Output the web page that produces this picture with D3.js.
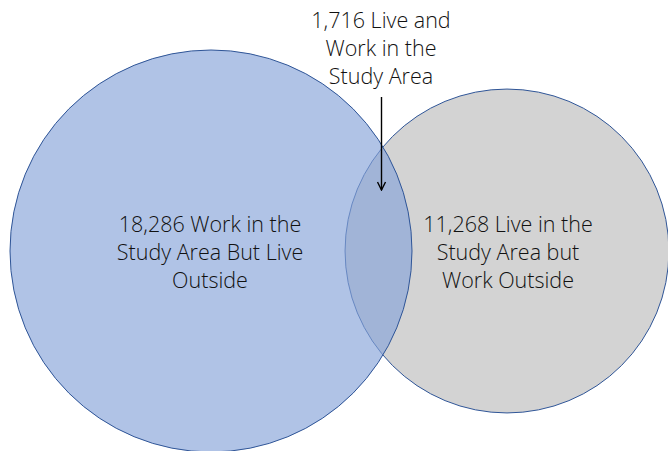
<!DOCTYPE html>
<html>
<head>
<meta charset="utf-8">
<script src="https://cdn.jsdelivr.net/npm/d3@7"></script>
<style>
  html, body { margin: 0; padding: 0; background: #fff; }
  svg { display: block; }
</style>
</head>
<body>
<svg id="chart"></svg>
<script>
// counts from the diagram
const setNames = ['work', 'live'];
const onlyCounts = [18286, 11268];
const bothCount = 1716;

// labels, one line per entry
const workLabel = ['18,286 Work in the', 'Study Area But Live', 'Outside'];
const liveLabel = ['11,268 Live in the', 'Study Area but', 'Work Outside'];
const bothLabel = ['1,716 Live and', 'Work in the', 'Study Area'];

const width = 668;
const height = 451;

const svg = d3.select('#chart')
  .attr('width', width)
  .attr('height', height)
  .style('font-family', '"Open Sans", "Noto Sans", sans-serif');

// circle area follows the set total
const totals = onlyCounts.map(d => d + bothCount);
const rScale = d3.scaleSqrt().domain([0, d3.max(totals)]).range([0, 201]);

const centers = { work: [211, 251], live: [507, 251] };

const defs = svg.append('defs');
defs.append('marker')
  .attr('id', 'arrow')
  .attr('viewBox', '0 0 10 10')
  .attr('refX', 9)
  .attr('refY', 5)
  .attr('markerWidth', 10)
  .attr('markerHeight', 10)
  .attr('markerUnits', 'userSpaceOnUse')
  .attr('orient', 'auto')
  .append('path')
  .attr('d', 'M1,1 L9,5 L1,9')
  .attr('fill', 'none')
  .attr('stroke', '#000')
  .attr('stroke-width', 1.4);

// grey circle underneath, blue one on top with some transparency
svg.append('circle')
  .attr('cx', centers.live[0])
  .attr('cy', centers.live[1])
  .attr('r', rScale(totals[1]))
  .attr('fill', '#d3d3d3')
  .attr('stroke', '#2f5597')
  .attr('stroke-width', 1);

svg.append('circle')
  .attr('cx', centers.work[0])
  .attr('cy', centers.work[1])
  .attr('r', rScale(totals[0]))
  .attr('fill', 'rgba(134,163,217,0.65)')
  .attr('stroke', '#2f5597')
  .attr('stroke-width', 1);

const addLabel = (lines, x, y0) => {
  svg.append('text')
    .attr('x', x)
    .attr('y', y0)
    .attr('text-anchor', 'middle')
    .attr('font-size', 21.5)
    .attr('font-weight', 350)
    .attr('fill', '#111')
    .selectAll('tspan')
    .data(lines)
    .enter()
    .append('tspan')
    .attr('x', x)
    .attr('dy', (d, i) => i === 0 ? 0 : 28)
    .text(d => d);
};

addLabel(workLabel, 210, 232);
addLabel(liveLabel, 508, 232);
addLabel(bothLabel, 381, 28);

// pointer into the overlap
svg.append('line')
  .attr('x1', 381.5)
  .attr('y1', 97)
  .attr('x2', 381.5)
  .attr('y2', 190)
  .attr('stroke', '#000')
  .attr('stroke-width', 1.4)
  .attr('marker-end', 'url(#arrow)');
</script>
</body>
</html>
